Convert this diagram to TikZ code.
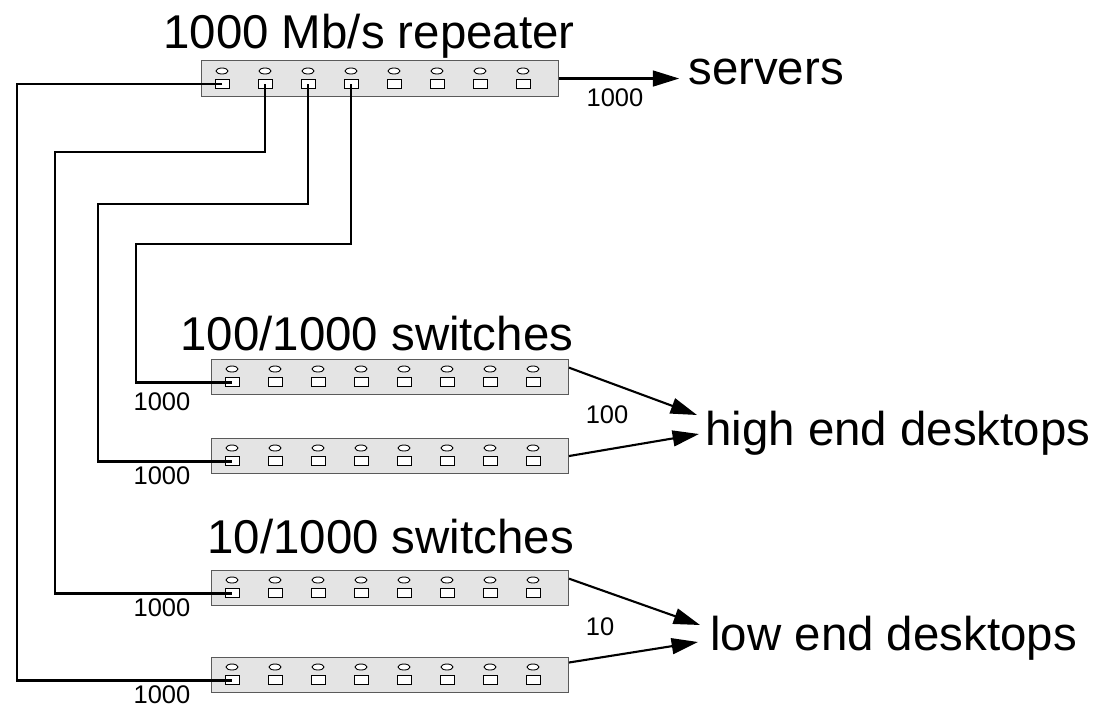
\documentclass[tikz,border=0pt]{standalone}
\usepackage{fontspec}
\setmainfont{Liberation Sans}
\usetikzlibrary{arrows.meta, positioning, calc}
\definecolor{panelgray}{RGB}{228,228,228}
\definecolor{edgegray}{RGB}{90,90,90}
\tikzset{
  panel/.style={draw=edgegray, fill=panelgray, line width=0.6pt, anchor=north west, minimum width=7.14cm, minimum height=0.70cm, inner sep=0pt},
  led/.style={draw, fill=white, line width=0.5pt},
  jack/.style={draw, fill=white, rectangle, minimum width=0.28cm, minimum height=0.18cm, inner sep=0pt, line width=0.5pt},
  wire/.style={line width=1.7pt},
  link/.style={line width=1.2pt, -{Triangle[length=15pt, width=9pt]}},
  title/.style={font=\fontsize{27}{30}\selectfont, anchor=base west, inner sep=0pt},
  rate/.style={font=\fontsize{14.5}{16}\selectfont, inner sep=0pt}
}

\begin{document}
\begin{tikzpicture}[x=0.02cm, y=-0.02cm]
  \useasboundingbox (0,0) rectangle (1099,707);

  % Repeater
  \node[panel, minimum height=0.72cm] (rep) at (201,60) {};
  \foreach \k in {1,...,8} {
    \draw[led] ({179+43*\k},71) ellipse [x radius=0.12cm, y radius=0.06cm];
    \node[jack] (rp\k) at ({179+43*\k},84) {};
  }

  % Switches
  \foreach \name/\top in {sw1/359, sw2/438, sw3/570, sw4/657} {
    \node[panel] (\name) at (211,\top) {};
    \foreach \k in {1,...,8} {
      \draw[led] ({189+43*\k},\top+10) ellipse [x radius=0.12cm, y radius=0.06cm];
      \node[jack] (\name p\k) at ({189+43*\k},\top+23) {};
    }
  }

  % Uplinks
  \foreach \i/\x/\y/\sw in {1/17/84/sw4, 2/55/152/sw3, 3/98/204/sw2, 4/136/244/sw1}
    \draw[wire] (rp\i.center) |- (\x,\y) |- (\sw p1.center);

  % Titles
  \node[title] (reptitle) at (163,48) {1000 Mb/s repeater};
  \node[title] (hititle) at (180,350) {100/1000 switches};
  \node[title] (lotitle) at (207,553) {10/1000 switches};
  \node[title] (servers) at (688,84) {servers};
  \node[title] (hidesk) at (705,445) {high end desktops};
  \node[title] (lodesk) at (710,650) {low end desktops};

  % Rates
  \node[rate] (rrep) at (615,98) {1000};
  \node[rate] (rsw1) at (162,402) {1000};
  \node[rate] (rsw2) at (162,476) {1000};
  \node[rate] (rsw3) at (162,608) {1000};
  \node[rate] (rsw4) at (162,695) {1000};
  \node[rate] (rhi) at (607,415) {100};
  \node[rate] (rlo) at (600,627) {10};

  % Links
  \coordinate (hitip1) at (697,415);
  \coordinate (hitip2) at (699,434);
  \coordinate (lotip1) at (700,625);
  \coordinate (lotip2) at (698,642);
  \draw[link] (rep.east) -- ([xshift=-5pt]rep.east -| servers.west);
  \draw[link] (sw1.3) -- (hitip1);
  \draw[link] (sw2.east) -- (hitip2);
  \draw[link] (sw3.3) -- (lotip1);
  \draw[link] (sw4.4) -- (lotip2);
\end{tikzpicture}
\end{document}
